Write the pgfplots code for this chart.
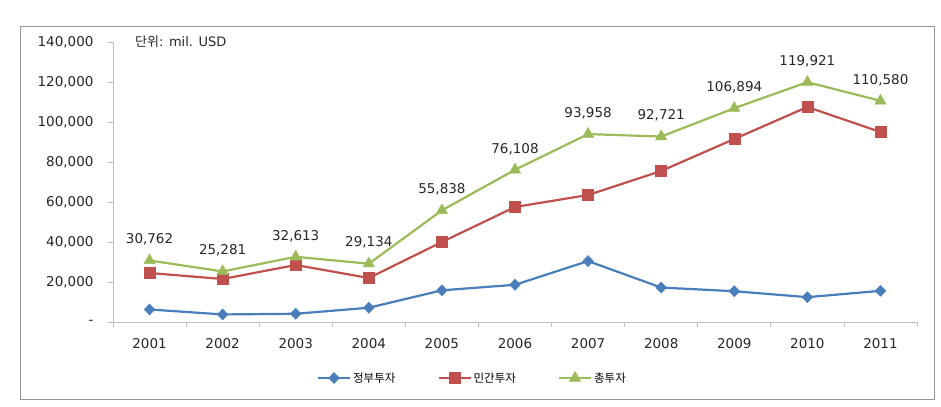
\documentclass[border=0pt]{standalone}
\usepackage{fontspec}
\usepackage{pgfplots}
\pgfplotsset{compat=1.18}
\setmainfont{Noto Sans CJK KR}
\newfontfamily\numfont{DejaVu Sans}
\definecolor{cblue}{RGB}{74,126,187}
\definecolor{cred}{RGB}{192,80,77}
\definecolor{cgreen}{RGB}{155,187,89}
\definecolor{axgray}{RGB}{190,190,190}
\definecolor{framegray}{RGB}{150,150,150}
\begin{document}
\begin{tikzpicture}
\useasboundingbox (-113bp,-85bp) rectangle (828bp,322bp);
\draw[framegray, line width=1bp] (-92bp,-77bp) rectangle (821bp,295bp);
\begin{axis}[
  at={(0,0)}, anchor=south west,
  scale only axis, width=804bp, height=280bp,
  xmin=-0.5, xmax=10.5, ymin=0, ymax=140000,
  axis x line=bottom, axis y line=left,
  axis line style={axgray, line width=0.8bp, -},
  xtick={-0.5,0.5,...,10.5},
  x tick label as interval,
  xticklabels={2001,2002,2003,2004,2005,2006,2007,2008,2009,2010,2011},
  ytick={0,20000,40000,60000,80000,100000,120000,140000},
  yticklabels={-,{20,000},{40,000},{60,000},{80,000},{100,000},{120,000},{140,000}},
  scaled y ticks=false, scaled x ticks=false,
  tick align=outside,
  major tick length=5bp,
  tick style={axgray, line width=0.8bp},
  ticklabel style={font=\numfont\fontsize{13.5bp}{15bp}\selectfont, text=black!85},
  yticklabel style={xshift=-11bp},
  xticklabel style={yshift=-8bp},
  clip=false,
  legend columns=3,
  legend style={draw=none, fill=none, at={(0.447,-0.2)}, anchor=center,
    font=\fontsize{11.5bp}{13bp}\selectfont,
    /tikz/every even column/.append style={column sep=40bp}},
  legend image code/.code={
    \draw[mark repeat=2,mark phase=2] plot coordinates {(0bp,0bp) (16bp,0bp) (32bp,0bp)};
  },
]
\addplot[cblue, line width=2.2bp, mark=diamond*, mark size=5.5bp,
  mark options={solid, fill=cblue, draw=cblue, xscale=1.3, line width=0.5bp}]
  coordinates {(0,6262) (1,3781) (2,4113) (3,7134) (4,15838) (5,18608) (6,30458) (7,17221) (8,15394) (9,12421) (10,15580)};
\addlegendentry{정부투자}
\addplot[cred, line width=2.2bp, mark=square*, mark size=5.5bp,
  mark options={solid, fill=cred, draw=cred, line width=0.5bp}]
  coordinates {(0,24500) (1,21500) (2,28500) (3,22000) (4,40000) (5,57500) (6,63500) (7,75500) (8,91500) (9,107500) (10,95000)};
\addlegendentry{민간투자}
\addplot[cgreen, line width=2.2bp, mark=triangle*, mark size=6.5bp,
  mark options={solid, fill=cgreen, draw=cgreen, line width=0.5bp},
  point meta=explicit symbolic,
  nodes near coords,
  every node near coord/.append style={anchor=center, yshift=21bp, text=black!85,
    font=\numfont\fontsize{13.5bp}{15bp}\selectfont}]
  coordinates {(0,30762) [30,762] (1,25281) [25,281] (2,32613) [32,613] (3,29134) [29,134] (4,55838) [55,838] (5,76108) [76,108] (6,93958) [93,958] (7,92721) [92,721] (8,106894) [106,894] (9,119921) [119,921] (10,110580) [110,580]};
\addlegendentry{총투자}
\end{axis}
\node[anchor=west, inner sep=0pt, text=black!85] at (22bp,280bp) {\fontsize{13bp}{15bp}\selectfont 단위{\numfont: mil. USD}};
\end{tikzpicture}
\end{document}
